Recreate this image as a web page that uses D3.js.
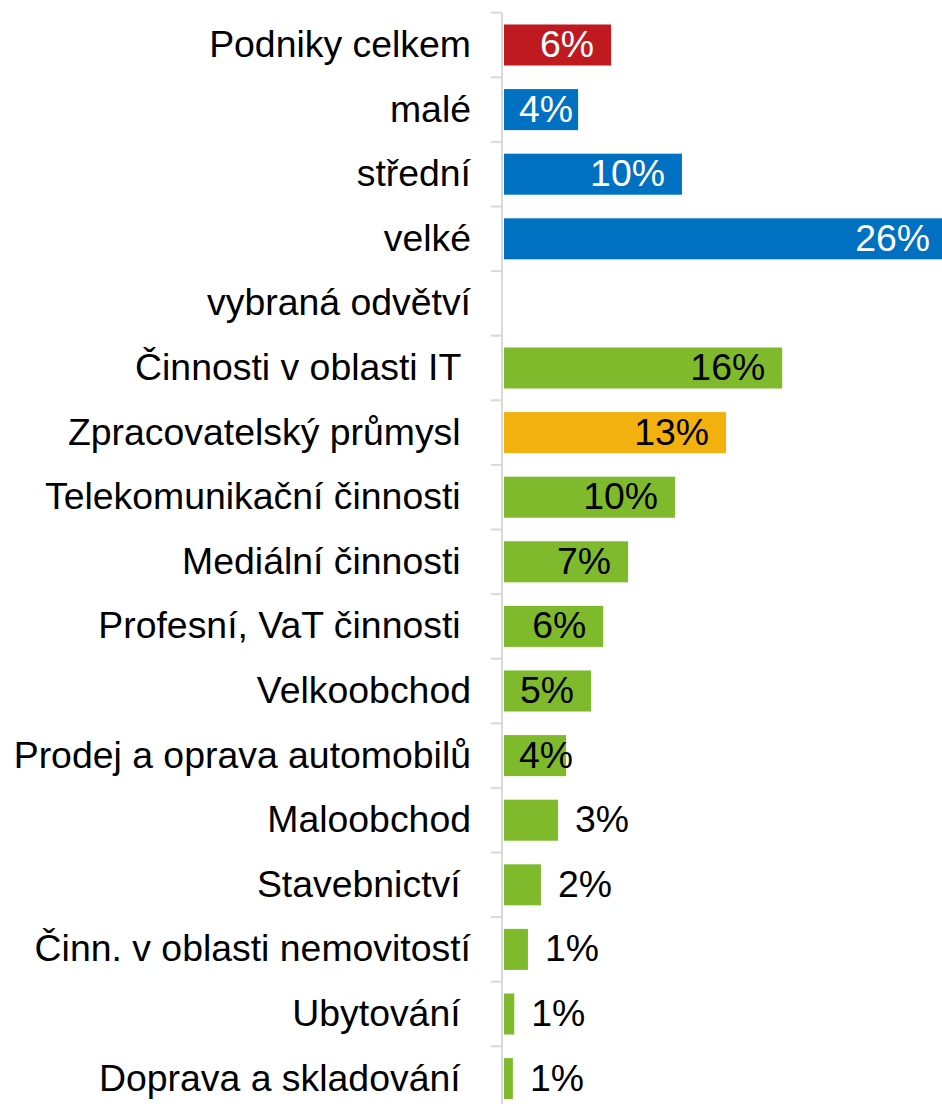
<!DOCTYPE html>
<html>
<head>
<meta charset="utf-8">
<script src="https://cdn.jsdelivr.net/npm/d3@7"></script>
<style>
  html, body { margin: 0; padding: 0; background: #fff; overflow: hidden; }
  svg { display: block; font-family: "Liberation Sans", Arial, sans-serif; }
  text { white-space: pre; }
</style>
</head>
<body>
<svg id="chart" width="942" height="1104"></svg>
<script>
const categories = [
  "Podniky celkem", "malé", "střední", "velké", "vybraná odvětví",
  "Činnosti v oblasti IT ", "Zpracovatelský průmysl ", "Telekomunikační činnosti ",
  "Mediální činnosti ", "Profesní, VaT činnosti ", "Velkoobchod",
  "Prodej a oprava automobilů", "Maloobchod", "Stavebnictví ",
  "Činn. v oblasti nemovitostí", "Ubytování ", "Doprava a skladování "
];
const values = [6.26, 4.33, 10.4, 25.9, null, 16.26, 12.98, 10.0, 7.25, 5.8, 5.09, 3.63, 3.16, 2.16, 1.4, 0.6, 0.52];
const valueLabels = ["6%", "4%", "10%", "26%", "", "16%", "13%", "10%", "7%", "6%", "5%", "4%", "3%", "2%", "1%", "1%", "1%"];
const groups = ["total", "size", "size", "size", "header", "sector", "highlight", "sector", "sector", "sector", "sector", "sector", "sector", "sector", "sector", "sector", "sector"];

const colorMap = { total: "#BE1A20", size: "#0070C0", sector: "#7FBA2D", highlight: "#F2B10E", header: "none" };
const labelColorMap = { total: "#fff", size: "#fff", sector: "#000", highlight: "#000", header: "#000" };

(function () {
const svg = d3.select("#chart");
const fs = 37.4;
const x0 = 504;
const x = d3.scaleLinear().domain([0, 25.6]).range([x0, 942]);
const step = 64.6, y0 = 12.7;
const y = d3.scaleBand().domain(categories)
  .range([y0, y0 + step * categories.length])
  .paddingInner(0.365).paddingOuter(0.1825);

// axis line + ticks
const axisX = 502;
svg.append("line").attr("x1", axisX).attr("x2", axisX)
  .attr("y1", y0).attr("y2", 1104)
  .attr("stroke", "#D9D9D9").attr("stroke-width", 2);
const boundaries = d3.range(categories.length + 1).map(i => y0 + i * step);
svg.selectAll("line.tick").data(boundaries).enter().append("line")
  .attr("class", "tick")
  .attr("x1", 491).attr("x2", axisX)
  .attr("y1", d => d).attr("y2", d => d)
  .attr("stroke", "#D9D9D9").attr("stroke-width", 2);

// bars
const rows = categories.map((c, i) => ({ c, v: values[i], lab: valueLabels[i], g: groups[i] }));
svg.selectAll("rect.bar").data(rows.filter(d => d.v != null)).enter().append("rect")
  .attr("class", "bar")
  .attr("x", x(0))
  .attr("y", d => y(d.c))
  .attr("width", d => x(d.v) - x(0))
  .attr("height", y.bandwidth())
  .attr("fill", d => colorMap[d.g]);

// category labels
svg.selectAll("text.cat").data(rows).enter().append("text")
  .attr("class", "cat")
  .attr("x", 471)
  .attr("y", d => y(d.c) + y.bandwidth() / 2)
  .attr("dy", "0.32em")
  .attr("text-anchor", "end")
  .attr("font-size", fs)
  .attr("fill", "#000")
  .text(d => d.c);

// value labels
const pad = 17;
const lbl = svg.selectAll("text.val").data(rows.filter(d => d.v != null)).enter().append("text")
  .attr("class", "val")
  .attr("y", d => y(d.c) + y.bandwidth() / 2)
  .attr("dy", "0.32em")
  .attr("font-size", fs)
  .text(d => d.lab);
lbl.each(function (d) {
  const t = d3.select(this);
  const w = this.getComputedTextLength();
  const end = x(d.v);
  if (d.v >= 3.5) {
    const left = Math.max(end - pad - w, x0 + 15);
    t.attr("x", left).attr("text-anchor", "start").attr("fill", labelColorMap[d.g]);
  } else {
    t.attr("x", end + pad).attr("text-anchor", "start").attr("fill", "#000");
  }
});
})();
</script>
</body>
</html>
